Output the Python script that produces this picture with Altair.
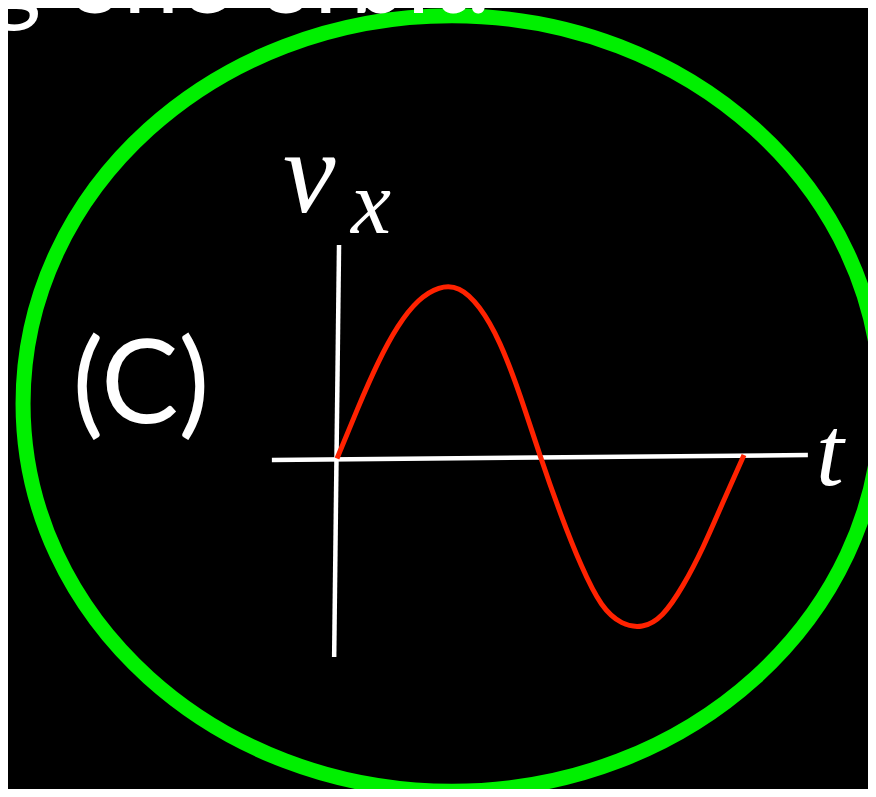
import altair as alt
import pandas as pd

# curve (t in periods, v_x in amplitude units)
t_vals = [0.0, 0.05, 0.1, 0.15, 0.2, 0.25, 0.3, 0.35, 0.4, 0.45, 0.5,
          0.55, 0.6, 0.65, 0.7, 0.75, 0.8, 0.85, 0.9, 0.95, 1.0]
v_vals = [-0.01, 0.28, 0.55, 0.77, 0.92, 0.995, 0.99, 0.88, 0.67, 0.36, 0.0,
          -0.34, -0.64, -0.87, -0.98, -1.0, -0.93, -0.76, -0.53, -0.26, 0.01]

# axis lines (in data units)
axis_t1 = [-0.160, 0.005]
axis_v1 = [-0.019, 1.251]
axis_t2 = [1.157, -0.007]
axis_v2 = [0.010, -1.183]

curve = pd.DataFrame({"t": t_vals, "v": v_vals})
axes = pd.DataFrame({"t": axis_t1, "v": axis_v1, "t2": axis_t2, "v2": axis_v2})

W, H = 860, 781
xs = alt.Scale(domain=[0, 1], range=[329, 736])
ys = alt.Scale(domain=[-1, 1], range=[618, 279.5])

ellipse = alt.Chart(pd.DataFrame({"a": [0]})).mark_point(
    shape="M -1 0 A 1 0.904 0 1 1 1 0 A 1 0.904 0 1 1 -1 0 Z",
    filled=False, stroke="#00f000", strokeWidth=15, opacity=1,
).encode(x=alt.value(444), y=alt.value(395.5), size=alt.value(736000))

axis_lines = alt.Chart(axes).mark_rule(color="white", strokeWidth=4.5).encode(
    x=alt.X("t:Q", scale=xs, axis=None),
    y=alt.Y("v:Q", scale=ys, axis=None),
    x2="t2:Q", y2="v2:Q",
)

line = alt.Chart(curve).mark_line(color="#ff2200", strokeWidth=5, interpolate="natural").encode(
    x=alt.X("t:Q", scale=xs, axis=None),
    y=alt.Y("v:Q", scale=ys, axis=None),
)

def label(txt, x, y, size, font, style="normal", align="left"):
    return alt.Chart(pd.DataFrame({"s": [txt]})).mark_text(
        font=font, fontSize=size, fontStyle=style, color="white",
        align=align, baseline="alphabetic",
    ).encode(x=alt.value(x), y=alt.value(y), text="s:N")

top = label("during one orbit.", 482, 5, 100, "Lato", align="right")
c_lab = label("(C)", 133, 415, 116, "Lato", align="center")
v_lab = label("v", 275, 204, 118, "Liberation Serif", style="italic")
x_lab = label("x", 343, 225, 90, "Liberation Serif", style="italic")
t_lab = label("t", 808, 477, 100, "Liberation Serif", style="italic")

chart = alt.layer(ellipse, axis_lines, line, top, c_lab, v_lab, x_lab, t_lab).properties(
    width=W, height=H, background="black", padding=0,
    autosize=alt.AutoSizeParams(type="none"),
).configure_view(stroke=None)

chart.save("out.html", embed_options={"renderer": "svg", "actions": False})
